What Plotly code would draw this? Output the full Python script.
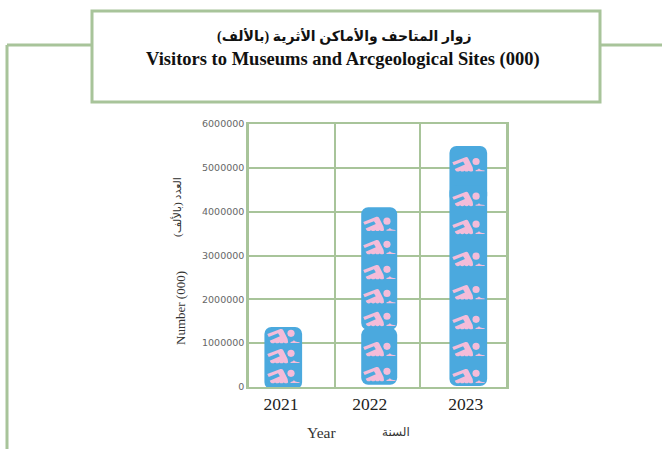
import base64
import plotly.graph_objects as go

# ---- data ----
years = ["2021", "2022", "2023"]
year_positions = [0.374, 1.41, 2.53]          # tick-label positions on the band axis
band_edges = [0, 1, 2, 3]
y_ticks = [0, 1000000, 2000000, 3000000, 4000000, 5000000, 6000000]

segment_x = [0.40, 1.52, 1.52, 2.56, 2.56]
segment_width = [0.44, 0.42, 0.42, 0.44, 0.44]
segment_base = [-50000, 50000, 1300000, 4200000, 20000]
segment_top = [1370000, 1350000, 4100000, 5500000, 4600000]

icons_2021 = [228000, 684000, 1140000]
icons_2022 = [274000, 844000, 1530000, 2050000, 2600000, 3170000, 3700000]
icons_2023 = [228000, 844000, 1460000, 2140000, 2900000, 3630000, 4270000, 5060000]
icon_x = [0.40, 1.52, 2.56]

title_ar = "زوار المتاحف والأماكن الأثرية (بالألف)"
title_en = "Visitors to Museums and Arcgeological Sites (000)"
ylabel_ar = "العدد (بالألف)"
ylabel_en = "Number (000)"
xlabel_en = "Year"
xlabel_ar = "السنة"

# ---- styles ----
GREEN = "#a8c49a"
BLUE = "#4ba9de"
PINK = "#f4bcd9"
SERIF = "Liberation Serif, DejaVu Serif, DejaVu Sans, serif"

swimmer_svg = f"""<svg xmlns="http://www.w3.org/2000/svg" viewBox="0 0 34 18" width="340" height="180">
<g fill="{PINK}">
<circle cx="25" cy="5.2" r="3.7"/>
<path d="M0.5 6 L14 0.8 Q16 0.2 17 2 L21.5 11 L22 14.6 Q19.8 16.4 17.5 14.6 Q15.2 16.4 13 14.6 Q10.8 16.4 8.5 14.6 Q6.2 16.4 4 14.6 L3 12.8 L13.5 8.2 L11.6 5.2 L2 9 Z"/>
<path d="M24.5 14.2 Q26.5 14 28 12.4 Q29.5 14 31.5 14.2 L34 14.4 L34 15.2 L24.5 15.2 Z"/>
</g></svg>"""
swimmer_uri = "data:image/svg+xml;base64," + base64.b64encode(swimmer_svg.encode()).decode()

fig = go.Figure()
fig.add_trace(go.Bar(
    x=segment_x,
    y=[t - b for t, b in zip(segment_top, segment_base)],
    base=segment_base,
    width=segment_width,
    marker=dict(color=BLUE, line=dict(width=0), cornerradius=7),
    showlegend=False,
    hoverinfo="skip",
))

images = []
for cx, levels in zip(icon_x, [icons_2021, icons_2022, icons_2023]):
    for level in levels:
        images.append(dict(
            source=swimmer_uri, xref="x", yref="y", x=cx, y=level,
            sizex=0.385, sizey=420000, xanchor="center", yanchor="middle",
            sizing="contain", layer="above",
        ))

def rule(x0, y0, x1, y1):
    return dict(type="line", xref="paper", yref="paper", x0=x0, y0=y0, x1=x1, y1=y1,
                line=dict(color=GREEN, width=3), layer="above")

W, H, L, R, T, B = 662, 449, 249, 506, 124, 387
px = lambda v: (v - L) / (R - L)
py = lambda v: (B - v) / (B - T)

shapes = [
    dict(type="rect", xref="paper", yref="paper", x0=px(92), x1=px(600), y0=py(102), y1=py(11),
         line=dict(color=GREEN, width=3), fillcolor="rgba(0,0,0,0)", layer="above"),
    rule(px(7), py(45), px(91), py(45)),
    rule(px(7), py(45), px(7), py(449)),
    rule(px(600), py(45), px(662), py(45)),
]

def note(text, x, y, size, color="#222222", angle=0, bold=False):
    return dict(text=f"<b>{text}</b>" if bold else text, xref="paper", yref="paper",
                x=px(x), y=py(y), xanchor="center", yanchor="middle", showarrow=False,
                textangle=angle, font=dict(family=SERIF, size=size, color=color))

annotations = [
    note(title_ar, 344, 37, 14, "#111111", bold=True),
    note(title_en, 343, 60, 18.5, "#111111", bold=True),
    note(ylabel_ar, 177, 207, 11, "#333333", angle=-90),
    note(ylabel_en, 180, 308, 13, "#333333", angle=-90),
    note(xlabel_en, 321, 432, 15.5, "#333333"),
    note(xlabel_ar, 396, 432, 12, "#333333"),
]

fig.update_layout(
    width=W, height=H, autosize=False,
    margin=dict(l=L, r=W - R, t=T, b=H - B, pad=0),
    paper_bgcolor="white", plot_bgcolor="white",
    barmode="overlay", showlegend=False,
    images=images, shapes=shapes, annotations=annotations,
    xaxis=dict(
        range=[0, 3], tickmode="array", tickvals=year_positions, ticktext=years,
        showgrid=False, zeroline=False, showline=True, mirror=True,
        linecolor=GREEN, linewidth=2, ticks="",
        tickfont=dict(family=SERIF, size=17.5, color="#222222"),
        minor=dict(tickmode="array", tickvals=band_edges, showgrid=True,
                   gridcolor=GREEN, gridwidth=2, ticks=""),
    ),
    yaxis=dict(
        range=[0, 6000000], tickmode="array", tickvals=y_ticks,
        ticktext=[str(v) for v in y_ticks],
        showgrid=True, gridcolor=GREEN, gridwidth=2, zeroline=False,
        showline=True, mirror=True, linecolor=GREEN, linewidth=2.5, ticks="",
        tickfont=dict(family="DejaVu Sans, sans-serif", size=9.5, color="#666666"),
    ),
)
fig.write_html("out.html", config={"displayModeBar": False},
               post_script="document.body.style.margin='0';")
